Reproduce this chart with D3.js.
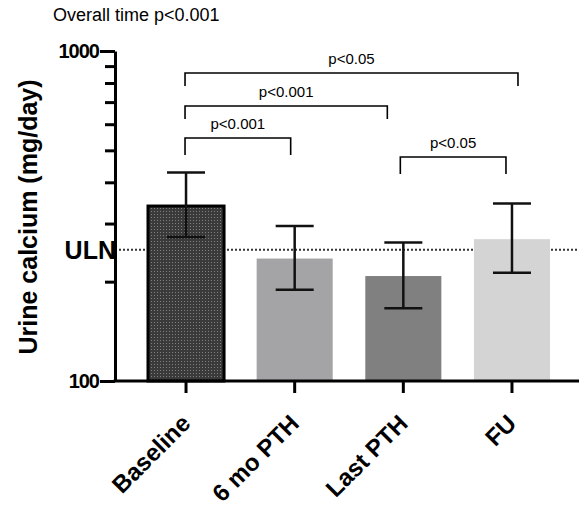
<!DOCTYPE html>
<html>
<head>
<meta charset="utf-8">
<script src="https://cdn.jsdelivr.net/npm/d3@7"></script>
<style>
  body { margin: 0; background: #fff; }
  svg { display: block; }
  text { font-family: "Liberation Sans", Arial, Helvetica, sans-serif; }
</style>
</head>
<body>
<div id="chart"></div>
<script>
// data
const groups = ["Baseline", "6 mo PTH", "Last PTH", "FU"];
const means = [339, 235, 208, 269];
const errLow = [273, 189, 166, 213];
const errHigh = [428, 295, 263, 345];
const barColors = ["url(#dots)", "#a4a4a6", "#808080", "#d4d4d4"];
const yTicksMajor = [100, 1000];
const yTicksMinor = [200, 300, 400, 500, 600, 700, 800, 900];
const uln = 250;
// comparisons: from, to, label
const compFrom = ["Baseline", "Baseline", "Baseline", "Last PTH"];
const compTo = ["FU", "Last PTH", "6 mo PTH", "FU"];
const compLabel = ["p<0.05", "p<0.001", "p<0.001", "p<0.05"];

const width = 579, height = 511;
const margin = {top: 51, right: 0, bottom: 130, left: 115};

const svg = d3.select("#chart").append("svg")
  .attr("width", width)
  .attr("height", height);

// dotted pattern for baseline bar
const defs = svg.append("defs");
const pat = defs.append("pattern")
  .attr("id", "dots")
  .attr("width", 3).attr("height", 3)
  .attr("patternUnits", "userSpaceOnUse");
pat.append("rect").attr("width", 3).attr("height", 3).attr("fill", "#3a3a3a");
pat.append("rect").attr("x", 1).attr("y", 1).attr("width", 1).attr("height", 1).attr("fill", "#808080");

const y = d3.scaleLog()
  .domain([100, 1000])
  .range([height - margin.bottom, margin.top]);

const x = d3.scaleBand()
  .domain(groups)
  .range([148, 550])
  .paddingInner(0.3)
  .paddingOuter(0);

const y0 = y(100);

// title
svg.append("text")
  .attr("x", 53).attr("y", 21)
  .attr("font-size", 18)
  .text("Overall time p<0.001");

// ULN line (behind bars)
svg.append("line")
  .attr("x1", margin.left).attr("x2", width)
  .attr("y1", y(uln)).attr("y2", y(uln))
  .attr("stroke", "#333")
  .attr("stroke-width", 2)
  .attr("stroke-dasharray", "2,2");

svg.append("text")
  .attr("x", margin.left + 1).attr("y", y(uln) + 9)
  .attr("text-anchor", "end")
  .attr("font-size", 25)
  .attr("font-weight", "bold")
  .text("ULN");

// bars
svg.selectAll(".bar")
  .data(groups)
  .enter().append("rect")
  .attr("class", "bar")
  .attr("x", d => x(d))
  .attr("width", x.bandwidth())
  .attr("y", (d, i) => y(means[i]))
  .attr("height", (d, i) => y0 - y(means[i]))
  .attr("fill", (d, i) => barColors[i])
  .attr("stroke", (d, i) => i === 0 ? "#000" : "none")
  .attr("stroke-width", 3);

// error bars
const cx = d => x(d) + x.bandwidth() / 2;
const capW = 19;
const err = svg.append("g")
  .attr("stroke", "#111")
  .attr("stroke-width", 2.5);
groups.forEach((g, i) => {
  err.append("line")
    .attr("x1", cx(g)).attr("x2", cx(g))
    .attr("y1", y(errHigh[i])).attr("y2", y(errLow[i]));
  err.append("line")
    .attr("x1", cx(g) - capW).attr("x2", cx(g) + capW)
    .attr("y1", y(errHigh[i])).attr("y2", y(errHigh[i]));
  err.append("line")
    .attr("x1", cx(g) - capW).attr("x2", cx(g) + capW)
    .attr("y1", y(errLow[i])).attr("y2", y(errLow[i]));
});

// y axis
const yAxisMajor = d3.axisLeft(y)
  .tickValues(yTicksMajor)
  .tickSize(15)
  .tickSizeOuter(0)
  .tickPadding(1)
  .tickFormat(d3.format("d"));
const yAxisMinor = d3.axisLeft(y)
  .tickValues(yTicksMinor)
  .tickSize(10)
  .tickSizeOuter(0)
  .tickFormat("");

const gy = svg.append("g")
  .attr("transform", `translate(${margin.left},0)`)
  .call(yAxisMajor);
svg.append("g")
  .attr("transform", `translate(${margin.left},0)`)
  .call(yAxisMinor)
  .select(".domain").remove();

svg.selectAll("g .domain, g .tick line")
  .attr("stroke", "#000")
  .attr("stroke-width", 3);
gy.selectAll("text")
  .attr("font-size", 20)
  .attr("font-weight", "bold")
  .attr("letter-spacing", -1)
  .attr("fill", "#000")
  .attr("font-family", "'Liberation Sans', Arial, sans-serif");

// x axis
const xAxis = d3.axisBottom(x)
  .tickSize(12)
  .tickSizeOuter(0)
  .tickPadding(2);
const gx = svg.append("g")
  .attr("transform", `translate(0,${y0})`)
  .call(xAxis);
gx.select(".domain")
  .attr("d", `M${margin.left - 1.5},0H${width}`)
  .attr("stroke", "#000")
  .attr("stroke-width", 3);
gx.selectAll(".tick line")
  .attr("stroke", "#000")
  .attr("stroke-width", 3);
gx.selectAll(".tick text")
  .attr("font-size", 24)
  .attr("font-weight", "bold")
  .attr("fill", "#000")
  .attr("font-family", "'Liberation Sans', Arial, sans-serif")
  .attr("text-anchor", "end")
  .attr("dy", null)
  .attr("transform", "translate(-4,34) rotate(-45)");

// y axis title
svg.append("text")
  .attr("transform", `translate(37,${(y(100) + y(1000)) / 2 + 1}) rotate(-90)`)
  .attr("text-anchor", "middle")
  .attr("font-size", 25)
  .attr("font-weight", "bold")
  .text("Urine calcium (mg/day)");

// significance brackets
const bracketY = [73, 106, 138, 157];
const bracketDx = [[-1, 6], [-1, -16], [-1, -4], [-3, -6]];
const legLen = [13, 13, 17, 17];
const br = svg.append("g");
compLabel.forEach((lab, i) => {
  const xa = cx(compFrom[i]) + bracketDx[i][0];
  const xb = cx(compTo[i]) + bracketDx[i][1];
  const by = bracketY[i];
  br.append("path")
    .attr("d", `M${xa},${by + legLen[i]}V${by}H${xb}V${by + legLen[i]}`)
    .attr("fill", "none")
    .attr("stroke", "#000")
    .attr("stroke-width", 1.6);
  br.append("text")
    .attr("x", (xa + xb) / 2)
    .attr("y", by - 9)
    .attr("text-anchor", "middle")
    .attr("font-size", 15)
    .text(lab);
});
</script>
</body>
</html>
